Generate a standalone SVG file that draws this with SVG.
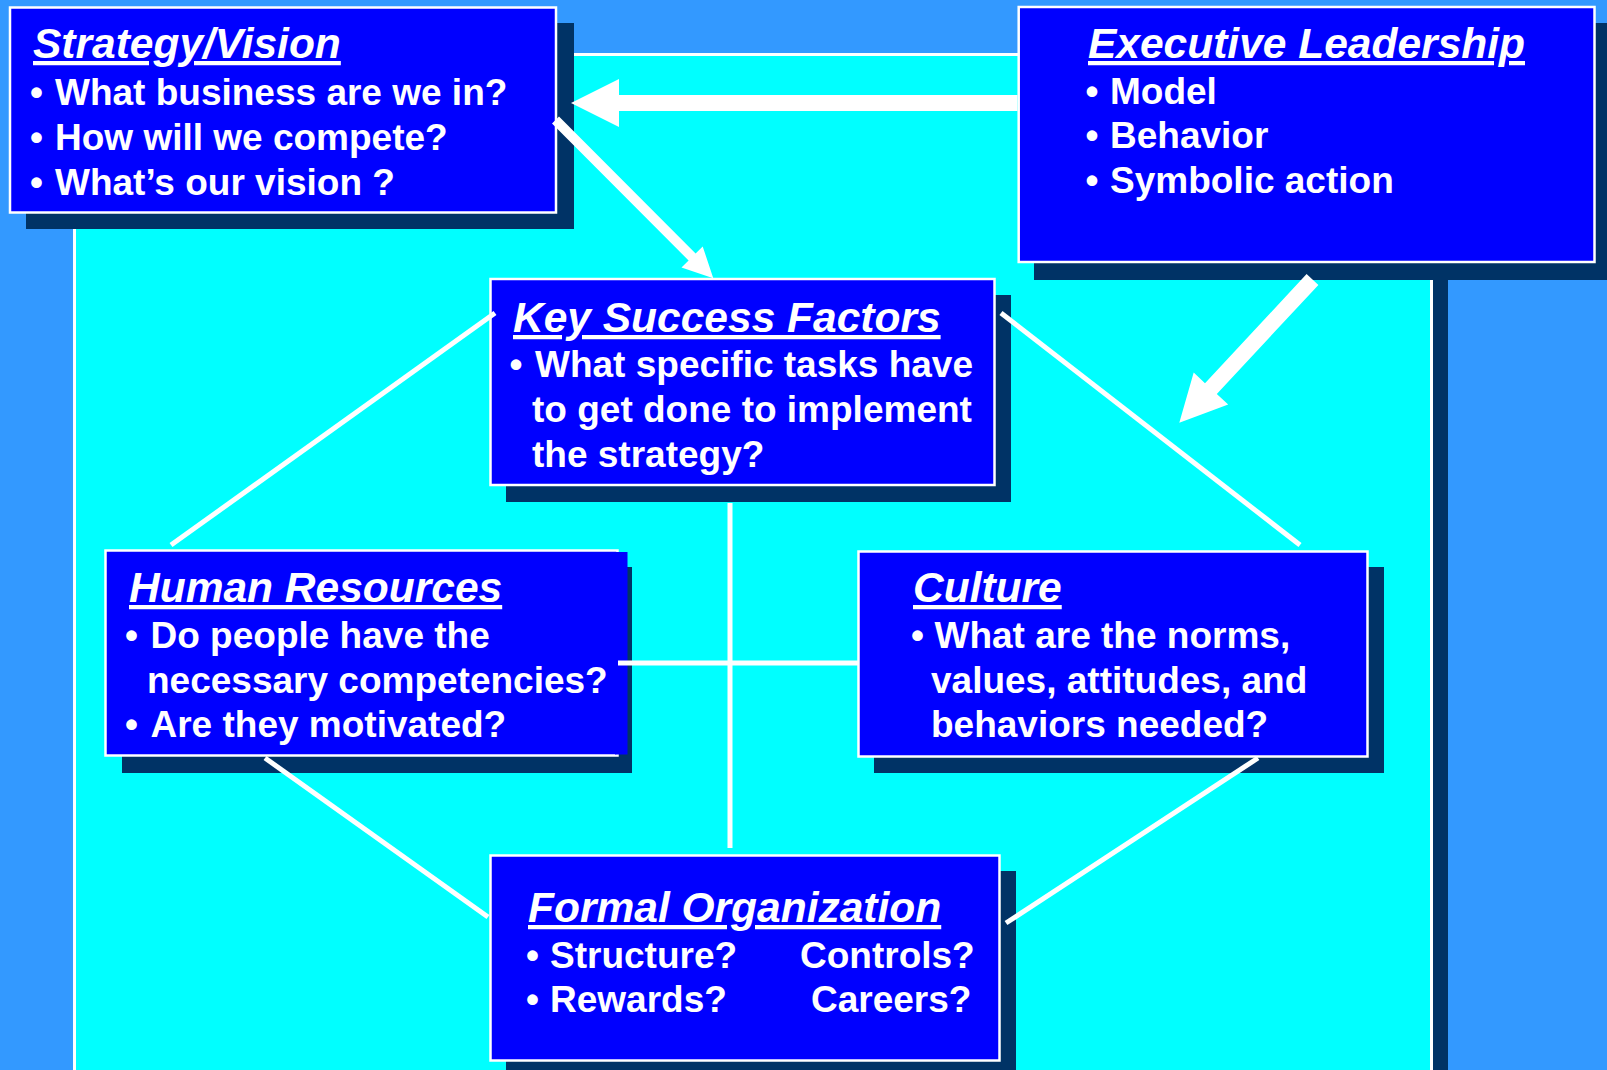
<svg xmlns="http://www.w3.org/2000/svg" width="1607" height="1070" viewBox="0 0 1607 1070">
  <style>
    .title { font-family: "Liberation Sans", Arial, sans-serif; font-weight: bold; font-style: italic; font-size: 42.5px; fill: #ffffff; text-decoration: underline 4px; text-underline-offset: 5px; }
    .body { font-family: "Liberation Sans", Arial, sans-serif; font-weight: bold; font-size: 37px; fill: #ffffff; }
    .box { fill: #0000ff; stroke: #ffffff; stroke-width: 2.5; }
    .fill { fill: #0000ff; }
    .shadow { fill: #003366; }
    .link { stroke: #ffffff; stroke-width: 5; fill: none; }
    .arrow { fill: #ffffff; }
  </style>

  <!-- page background -->
  <rect x="0" y="0" width="1607" height="1070" fill="#3399ff"/>

  <!-- central panel with drop shadow -->
  <g id="panel">
    <rect x="90" y="70" width="1358" height="1100" class="shadow"/>
    <rect x="74.5" y="54.5" width="1357" height="1100" fill="#00ffff" stroke="#ffffff" stroke-width="3"/>
  </g>

  <g id="strategy-vision">
    <rect x="26" y="23" width="548" height="206" class="shadow"/>
    <rect x="10" y="7.5" width="546" height="205" class="box"/>
    <text x="33" y="58" class="title">Strategy/Vision</text>
    <text x="30" y="105" class="body">•</text>
    <text x="55" y="105" class="body">What business are we in?</text>
    <text x="30" y="150" class="body">•</text>
    <text x="55" y="150" class="body">How will we compete?</text>
    <text x="30" y="195" class="body">•</text>
    <text x="55" y="195" class="body">What’s our vision ?</text>
  </g>

  <g id="executive-leadership">
    <rect x="1034" y="23" width="578" height="257" class="shadow"/>
    <rect x="1018.7" y="7" width="575.8" height="255" class="box"/>
    <text x="1088" y="58" class="title">Executive Leadership</text>
    <text x="1085.5" y="104" class="body">•</text>
    <text x="1110" y="104" class="body">Model</text>
    <text x="1085.5" y="148" class="body">•</text>
    <text x="1110" y="148" class="body">Behavior</text>
    <text x="1085.5" y="193" class="body">•</text>
    <text x="1110" y="193" class="body">Symbolic action</text>
  </g>

  <g id="key-success-factors">
    <rect x="506" y="295" width="505" height="207" class="shadow"/>
    <rect x="490.5" y="279" width="504" height="206" class="box"/>
    <text x="513" y="332" class="title">Key Success Factors</text>
    <text x="509.5" y="377" class="body">•</text>
    <text x="535" y="377" class="body">What specific tasks have</text>
    <text x="532" y="422" class="body">to get done to implement</text>
    <text x="532" y="467" class="body">the strategy?</text>
  </g>

  <g id="human-resources">
    <rect x="122" y="567" width="510" height="206" class="shadow"/>
    <rect x="105.5" y="550.5" width="512" height="205" class="box"/>
    <rect x="615" y="552" width="12.5" height="202.5" class="fill"/>
    <text x="129" y="602" class="title">Human Resources</text>
    <text x="125" y="648" class="body">•</text>
    <text x="150.5" y="648" class="body">Do people have the</text>
    <text x="147" y="693" class="body">necessary competencies?</text>
    <text x="125" y="737" class="body">•</text>
    <text x="150.5" y="737" class="body">Are they motivated?</text>
  </g>

  <g id="culture">
    <rect x="874" y="567" width="510" height="206" class="shadow"/>
    <rect x="858.5" y="551.5" width="509" height="205" class="box"/>
    <text x="913" y="602" class="title">Culture</text>
    <text x="911" y="648" class="body">•</text>
    <text x="934.5" y="648" class="body">What are the norms,</text>
    <text x="931" y="693" class="body">values, attitudes, and</text>
    <text x="931" y="737" class="body">behaviors needed?</text>
  </g>

  <g id="formal-organization">
    <rect x="506" y="871" width="510" height="206" class="shadow"/>
    <rect x="490.5" y="855.5" width="509" height="205" class="box"/>
    <text x="528" y="922" class="title">Formal Organization</text>
    <text x="526" y="968" class="body">•</text>
    <text x="550" y="968" class="body">Structure?</text>
    <text x="800" y="968" class="body">Controls?</text>
    <text x="526" y="1012" class="body">•</text>
    <text x="550" y="1012" class="body">Rewards?</text>
    <text x="811" y="1012" class="body">Careers?</text>
  </g>

  <g id="connectors">
    <!-- block arrows -->
    <polygon class="arrow" points="1017.5,95 619,95 619,79 571,103 619,127 619,111 1017.5,111"/>
    <polygon class="arrow" points="559,116.5 695.6,253.5 702.7,246.4 713.3,278.3 681.5,267.6 688.6,260.5 552,123.5"/>
    <polygon class="arrow" points="1306.6,274.1 1318.4,284.9 1216.8,394 1228.2,404.6 1179.3,422.7 1193.7,372.6 1205,383.2"/>
    <!-- plain links -->
    <line class="link" x1="495" y1="313" x2="171" y2="545"/>
    <line class="link" x1="1001" y1="313" x2="1300" y2="545"/>
    <line class="link" x1="730" y1="503" x2="730" y2="848"/>
    <line class="link" x1="618" y1="663" x2="858" y2="663"/>
    <line class="link" x1="265" y1="758" x2="488" y2="917"/>
    <line class="link" x1="1258" y1="758" x2="1006" y2="923"/>
  </g>
</svg>
